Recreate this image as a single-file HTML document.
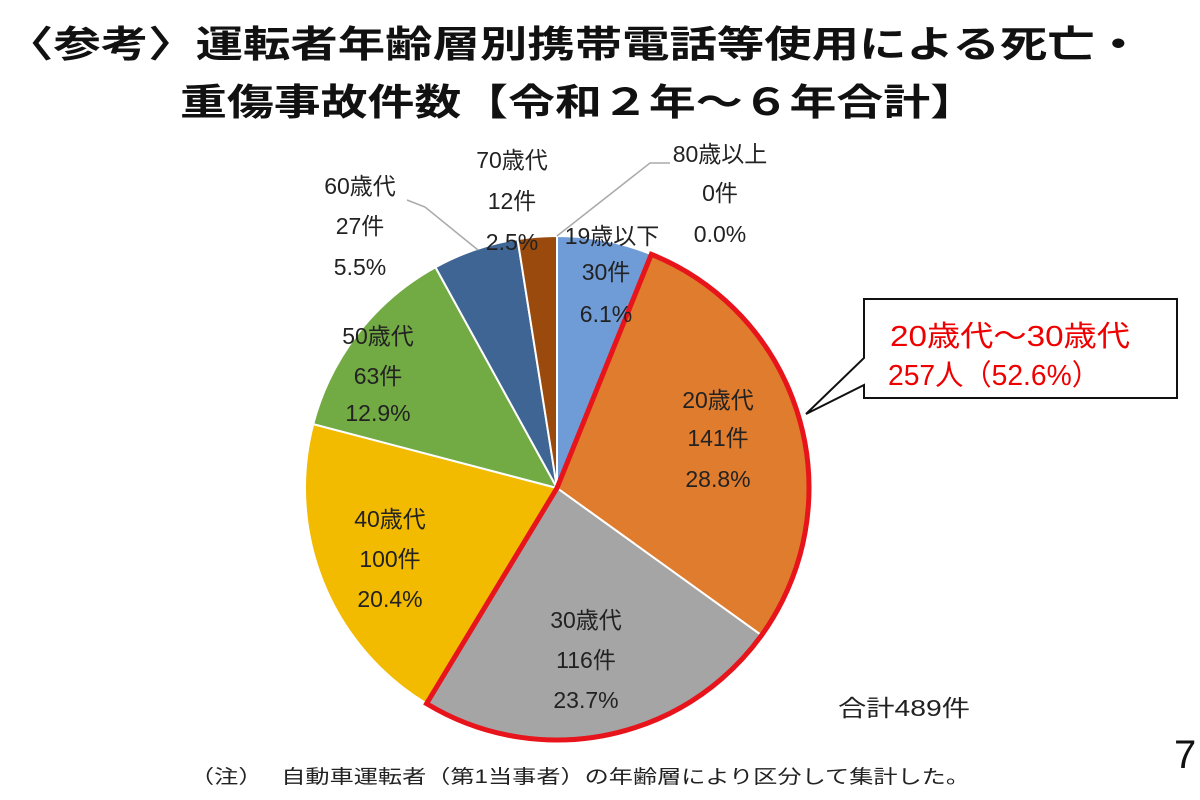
<!DOCTYPE html>
<html><head><meta charset="utf-8"><style>
html,body{margin:0;padding:0;background:#fff;width:1200px;height:800px;overflow:hidden}
svg{display:block}
text{font-family:"Liberation Sans","Noto Sans CJK JP",sans-serif}
</style></head><body>
<svg id="s" width="1200" height="800" xmlns="http://www.w3.org/2000/svg">
<text x="6" y="57" font-size="37" font-weight="bold" fill="#111" textLength="1136" lengthAdjust="spacingAndGlyphs">〈参考〉運転者年齢層別携帯電話等使用による死亡・</text>
<text x="180" y="115" font-size="37" font-weight="bold" fill="#111" textLength="797" lengthAdjust="spacingAndGlyphs">重傷事故件数【令和２年～６年合計】</text>
<g id="pie"></g>
<g font-size="23" fill="#222" text-anchor="middle">
<text x="612" y="244">19歳以下</text><text x="606" y="280">30件</text><text x="606" y="322">6.1%</text>
<text x="718" y="408">20歳代</text><text x="718" y="446">141件</text><text x="718" y="487">28.8%</text>
<text x="586" y="628">30歳代</text><text x="586" y="668">116件</text><text x="586" y="708">23.7%</text>
<text x="390" y="527">40歳代</text><text x="390" y="567">100件</text><text x="390" y="607">20.4%</text>
<text x="378" y="344">50歳代</text><text x="378" y="384">63件</text><text x="378" y="421">12.9%</text>
<text x="360" y="194">60歳代</text><text x="360" y="234">27件</text><text x="360" y="275">5.5%</text>
<text x="512" y="168">70歳代</text><text x="512" y="209">12件</text><text x="512" y="250">2.5%</text>
<text x="720" y="162">80歳以上</text><text x="720" y="201">0件</text><text x="720" y="242">0.0%</text>
</g>
<text x="838" y="716" font-size="23" fill="#222" textLength="132" lengthAdjust="spacingAndGlyphs">合計489件</text>
<polyline points="407,200 425,207 478,250" fill="none" stroke="#aaa" stroke-width="1.5"/>
<polyline points="670,163 650,163 557,236" fill="none" stroke="#aaa" stroke-width="1.5"/>
<path d="M864,299 H1177 V398 H864 V385 L806,414 L864,358 Z" fill="#fff" stroke="#111" stroke-width="2"/>
<text x="890" y="346" font-size="29" fill="#e00" textLength="240" lengthAdjust="spacingAndGlyphs">20歳代～30歳代</text>
<text x="888" y="385" font-size="29" fill="#e00" textLength="212" lengthAdjust="spacingAndGlyphs">257人（52.6%）</text>
<text x="1174" y="768" font-size="40" fill="#111">7</text>
<text x="190" y="783" font-size="19" fill="#222" textLength="780" lengthAdjust="spacingAndGlyphs">（注）　 自動車運転者（第1当事者）の年齢層により区分して集計した。</text>
</svg>
<script>
var cx=557,cy=488,r=252;
var d=[[6.1,"#6f9bd6"],[28.8,"#e07c2e"],[23.7,"#a5a5a5"],[20.4,"#f2bb00"],[12.9,"#72aa44"],[5.5,"#3f6594"],[2.5,"#9a4a0c"]];
var tot=0;d.forEach(function(x){tot+=x[0]});
function pt(p,rr){var a=p/tot*2*Math.PI-Math.PI/2;return [cx+rr*Math.cos(a),cy+rr*Math.sin(a)];}
var g=document.getElementById("pie"),acc=0,h="";
d.forEach(function(x){var a=pt(acc,r),b=pt(acc+x[0],r);var l=x[0]/tot>0.5?1:0;
h+='<path d="M'+cx+','+cy+' L'+a[0]+','+a[1]+' A'+r+','+r+' 0 '+l+' 1 '+b[0]+','+b[1]+' Z" fill="'+x[1]+'" stroke="#fff" stroke-width="2"/>';acc+=x[0];});
var s=6.1,e=6.1+28.8+23.7,a=pt(s,r),b=pt(e,r);
h+='<path d="M'+cx+','+cy+' L'+a[0]+','+a[1]+' A'+r+','+r+' 0 1 1 '+b[0]+','+b[1]+' Z" fill="none" stroke="#e8141b" stroke-width="5" stroke-linejoin="miter"/>';
g.innerHTML=h;
</script>
</body></html>
